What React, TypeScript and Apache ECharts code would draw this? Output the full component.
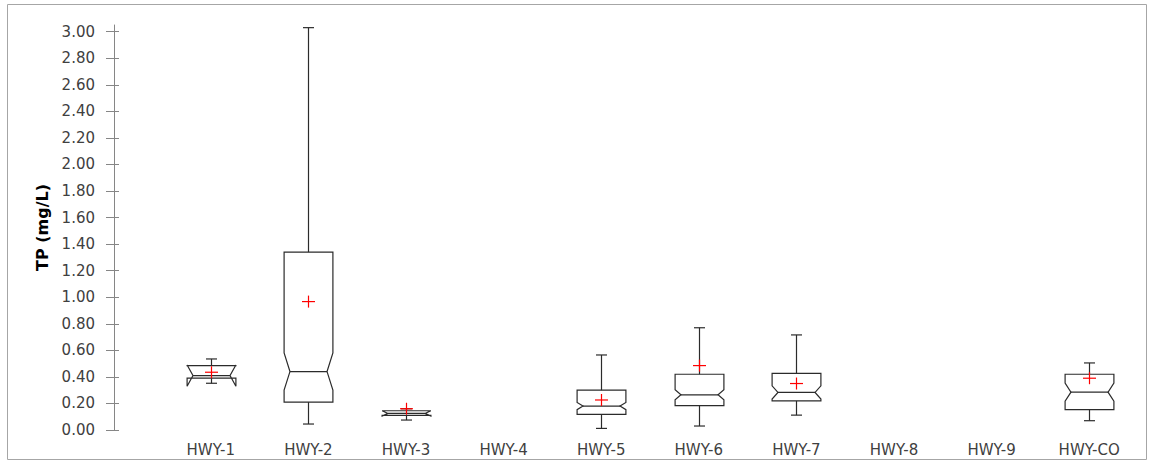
import React, { useEffect, useRef } from "react";
import * as echarts from "echarts";

// Sampling sites along the highway network
const categories = ["HWY-1", "HWY-2", "HWY-3", "HWY-4", "HWY-5", "HWY-6", "HWY-7", "HWY-8", "HWY-9", "HWY-CO"];

// Box-plot statistics of total phosphorus (mg/L); null = no samples
const whiskerLow = [0.352, 0.045, 0.075, null, 0.012, 0.03, 0.112, null, null, 0.07];
const quartile1 = [0.39, 0.21, 0.11, null, 0.118, 0.183, 0.219, null, null, 0.153];
const medians = [0.41, 0.44, 0.125, null, 0.18, 0.265, 0.283, null, null, 0.285];
const quartile3 = [0.485, 1.34, 0.145, null, 0.3, 0.42, 0.427, null, null, 0.42];
const whiskerHigh = [0.535, 3.03, 0.16, null, 0.565, 0.77, 0.716, null, null, 0.505];
const means = [0.435, 0.967, 0.16, null, 0.226, 0.485, 0.35, null, null, 0.39];
// Half-height of the median confidence notch
const notchHalf = [0.08, 0.14, 0.02, null, 0.027, 0.038, 0.05, null, null, 0.068];

const yTicks = [0, 0.2, 0.4, 0.6, 0.8, 1.0, 1.2, 1.4, 1.6, 1.8, 2.0, 2.2, 2.4, 2.6, 2.8, 3.0];

const FONT = "DejaVu Sans";
const INK = "#2b2b2b";
const TEXT = "#404040";
const AXIS_GREY = "#868686";

export default function App() {
  const ref = useRef<HTMLDivElement>(null);

  useEffect(() => {
    if (!ref.current) return;
    const chart = echarts.init(ref.current, undefined, { renderer: "svg" });

    const boxData: number[][] = [];
    categories.forEach((_, i) => {
      if (medians[i] == null) return;
      boxData.push([
        i,
        whiskerLow[i] as number,
        quartile1[i] as number,
        medians[i] as number,
        quartile3[i] as number,
        whiskerHigh[i] as number,
        means[i] as number,
        notchHalf[i] as number,
      ]);
    });

    const renderBox = (params: any, api: any) => {
      const i = api.value(0);
      const lo = api.value(1);
      const q1 = api.value(2);
      const med = api.value(3);
      const q3 = api.value(4);
      const hi = api.value(5);
      const mean = api.value(6);
      const notch = api.value(7);

      const xc = Math.round(api.coord([i, 0])[0]) + 0.5;
      const y = (v: number) => api.coord([i, v])[1];
      const band = api.size([1, 0])[0];
      const half = band * 0.25;
      const inset = band * 0.06;
      const L = xc - half;
      const R = xc + half;
      const yq1 = y(q1);
      const yq3 = y(q3);
      const ym = y(med);
      const ynLo = y(med - notch);
      const ynHi = y(med + notch);
      const capHalf = 5.5;

      const line = (x1: number, y1: number, x2: number, y2: number, stroke = INK) => ({
        type: "line",
        shape: { x1, y1, x2, y2 },
        style: { stroke, lineWidth: 1.2 },
      });

      const ymean = y(mean);
      return {
        type: "group",
        children: [
          line(xc, yq3, xc, y(hi)),
          line(xc - capHalf, y(hi), xc + capHalf, y(hi)),
          line(xc, yq1, xc, y(lo)),
          line(xc - capHalf, y(lo), xc + capHalf, y(lo)),
          {
            type: "polygon",
            shape: {
              points: [
                [L, yq1],
                [L, ynLo],
                [L + inset, ym],
                [L, ynHi],
                [L, yq3],
                [R, yq3],
                [R, ynHi],
                [R - inset, ym],
                [R, ynLo],
                [R, yq1],
              ],
            },
            style: { fill: "none", stroke: INK, lineWidth: 1.2 },
          },
          line(L + inset, ym, R - inset, ym),
          line(xc - 6.5, ymean, xc + 6.5, ymean, "#ff0000"),
          line(xc, ymean - 6, xc, ymean + 6, "#ff0000"),
        ],
      };
    };

    const yAxisBase = {
      type: "value" as const,
      position: "left" as const,
      min: 0,
      max: 3.05,
      offset: 48,
      splitLine: { show: false },
    };

    chart.setOption({
      animation: false,
      backgroundColor: "#ffffff",
      grid: { left: 162, right: 13, top: 25, bottom: 34, containLabel: false, outerBoundsMode: "none" },
      xAxis: {
        type: "category",
        data: categories,
        axisLine: { show: false },
        axisTick: { show: false },
        axisLabel: { color: TEXT, fontFamily: FONT, fontSize: 15, margin: 12 },
        splitLine: { show: false },
      },
      yAxis: [
        {
          ...yAxisBase,
          name: "TP (mg/L)",
          nameLocation: "middle",
          nameGap: 61,
          nameTextStyle: { color: "#000000", fontFamily: FONT, fontSize: 16, fontWeight: "bold" },
          axisLine: { show: true, lineStyle: { color: AXIS_GREY, width: 1 } },
          axisTick: { show: true, inside: false, length: 8, customValues: yTicks, lineStyle: { color: AXIS_GREY } },
          axisLabel: {
            show: true,
            customValues: yTicks,
            margin: 19,
            color: TEXT,
            fontFamily: FONT,
            fontSize: 15,
            formatter: (v: number) => v.toFixed(2),
          },
        },
        {
          ...yAxisBase,
          axisLine: { show: false },
          axisTick: { show: true, inside: true, length: 5, customValues: yTicks, lineStyle: { color: AXIS_GREY } },
          axisLabel: { show: false },
        },
      ],
      graphic: [
        {
          type: "rect",
          shape: { x: 7.5, y: 4.5, width: 1139, height: 455 },
          style: { fill: "none", stroke: "#a6a6a6", lineWidth: 1 },
          silent: true,
          z: -1,
        },
      ],
      series: [
        {
          type: "custom",
          xAxisIndex: 0,
          yAxisIndex: 0,
          renderItem: renderBox,
          encode: { x: 0, y: [1, 2, 3, 4, 5, 6] },
          data: boxData,
          clip: false,
        },
      ],
    });

    return () => chart.dispose();
  }, []);

  return (
    <div
      ref={ref}
      style={{ position: "absolute", left: 0, top: 0, width: 1151, height: 464, background: "#ffffff" }}
    />
  );
}
